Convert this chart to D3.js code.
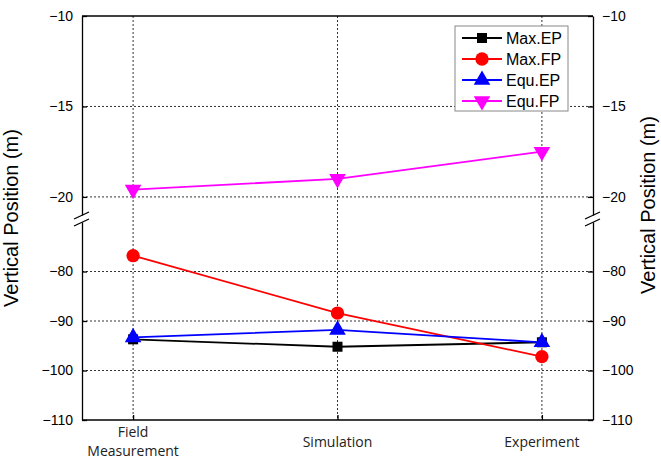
<!DOCTYPE html>
<html><head><meta charset="utf-8">
<script src="https://cdn.jsdelivr.net/npm/d3@7"></script>
<style>body{margin:0;background:#fff}</style>
</head><body>
<svg id="c" width="661" height="462"></svg>
<script>
const categories = ["Field\nMeasurement", "Simulation", "Experiment"];
const maxEP = [-93.7, -95.2, -94.3];
const maxFP = [-76.8, -88.4, -97.2];
const equEP = [-93.3, -91.8, -94.3];
const equFP = [-19.6, -19.0, -17.5];
const upperTicks = [-10, -15, -20];
const lowerTicks = [-80, -90, -100, -110];
const seriesNames = ["Max.EP", "Max.FP", "Equ.EP", "Equ.FP"];
const seriesColors = ["#000000", "#ff0000", "#0000ff", "#ff00ff"];
const seriesSymbols = ["square", "circle", "triangleUp", "triangleDown"];

const L = 82, R = 593, T = 16, B = 420;
const svg = d3.select("#c");
const x = d3.scalePoint().domain(categories).range([L, R]).padding(0.25);
const yU = d3.scaleLinear().domain([-10, -21]).range([T, 215]);
const yL = d3.scaleLinear().domain([-70, -110]).range([222, B]);
const y = v => v > -40 ? yU(v) : yL(v);

// grid
const g = svg.append("g");
const gridStyle = s => s.attr("stroke", "#333").attr("stroke-width", 1).attr("stroke-dasharray", "2,2");
upperTicks.filter(t => t !== -10).forEach(t => g.append("line").attr("x1", L).attr("x2", R).attr("y1", yU(t)).attr("y2", yU(t)).call(gridStyle));
lowerTicks.filter(t => t !== -110).forEach(t => g.append("line").attr("x1", L).attr("x2", R).attr("y1", yL(t)).attr("y2", yL(t)).call(gridStyle));
categories.forEach(c => g.append("line").attr("x1", x(c)).attr("x2", x(c)).attr("y1", T).attr("y2", B).call(gridStyle));

// axes
const font = "Liberation Sans, Arial, sans-serif";
function sideAxis(gen, xpos) {
  const a1 = svg.append("g").attr("transform", `translate(${xpos},0)`).call(gen(yU).tickValues(upperTicks).tickSizeInner(-5).tickSizeOuter(0).tickPadding(9));
  const a2 = svg.append("g").attr("transform", `translate(${xpos},0)`).call(gen(yL).tickValues(lowerTicks).tickSizeInner(-5).tickSizeOuter(0).tickPadding(9));
  [a1, a2].forEach(a => {
    a.select(".domain").attr("stroke", "#000").attr("stroke-width", 1.3);
    a.selectAll(".tick line").attr("stroke", "#000").attr("stroke-width", 1.3);
    a.selectAll("text").attr("font-family", font).attr("font-size", 14).attr("fill", "#000");
  });
  // break marks
  [[0], [7]].forEach(([dy]) => svg.append("line")
    .attr("x1", xpos - 8).attr("y1", 219 + dy).attr("x2", xpos + 7).attr("y2", 212 + dy)
    .attr("stroke", "#000").attr("stroke-width", 1.3));
}
sideAxis(d3.axisLeft, L);
sideAxis(d3.axisRight, R);
// top & bottom frame
svg.append("line").attr("x1", L).attr("x2", R).attr("y1", T).attr("y2", T).attr("stroke", "#000").attr("stroke-width", 1.3);
const xa = svg.append("g").attr("transform", `translate(0,${B})`).call(d3.axisBottom(x).tickSizeInner(-5).tickSizeOuter(0).tickFormat(""));
xa.select(".domain").attr("stroke", "#000").attr("stroke-width", 1.3).attr("d", `M${L},0H${R}`);
xa.selectAll(".tick line").attr("stroke", "#000").attr("stroke-width", 1.3);
categories.forEach(c => {
  const lines = c.split("\n");
  const y0 = lines.length === 1 ? 447 : 436.5;
  lines.forEach((ln, i) => svg.append("text").attr("text-anchor", "middle")
    .attr("font-family", "Open Sans, sans-serif").attr("font-size", 14).attr("fill", "#222")
    .attr("x", x(c)).attr("y", y0 + i * 19.5).text(ln));
});

// axis titles
svg.append("text").attr("transform", "translate(18,218) rotate(-90)").attr("text-anchor", "middle")
  .attr("font-family", font).attr("font-size", 20).attr("fill", "#000").text("Vertical Position (m)");
svg.append("text").attr("transform", "translate(655,205) rotate(-90)").attr("text-anchor", "middle")
  .attr("font-family", font).attr("font-size", 20).attr("fill", "#000").text("Vertical Position (m)");

// series
const symbolPath = {
  square: d3.symbol().type(d3.symbolSquare).size(100)(),
  circle: d3.symbol().type(d3.symbolCircle).size(140)(),
  triangleUp: d3.symbol().type(d3.symbolTriangle).size(120)(),
};
const allSeries = [maxEP, maxFP, equEP, equFP];
function marker(sel, sym, color, cx, cy) {
  const p = sel.append("path").attr("fill", color).attr("transform", `translate(${cx},${cy})`);
  if (sym === "triangleDown") p.attr("d", symbolPath.triangleUp).attr("transform", `translate(${cx},${cy}) rotate(180)`);
  else p.attr("d", symbolPath[sym]);
}
const line = d3.line().x((d, i) => x(categories[i])).y(d => y(d));
allSeries.forEach((vals, si) => {
  const s = svg.append("g");
  s.append("path").attr("d", line(vals)).attr("fill", "none").attr("stroke", seriesColors[si]).attr("stroke-width", 1.8);
  vals.forEach((v, i) => marker(s, seriesSymbols[si], seriesColors[si], x(categories[i]), y(v)));
});

// legend
const lg = svg.append("g");
lg.append("rect").attr("x", 455).attr("y", 26).attr("width", 113).attr("height", 85).attr("fill", "#fff").attr("stroke", "#888").attr("stroke-width", 1);
seriesNames.forEach((n, i) => {
  const yy = 38 + i * 21;
  lg.append("line").attr("x1", 462).attr("x2", 502).attr("y1", yy).attr("y2", yy).attr("stroke", seriesColors[i]).attr("stroke-width", 1.8);
  marker(lg, seriesSymbols[i], seriesColors[i], 482, yy);
  lg.append("text").attr("x", 506).attr("y", yy + 6).attr("font-family", font).attr("font-size", 16).attr("fill", "#000").text(n);
});
</script>
</body></html>
